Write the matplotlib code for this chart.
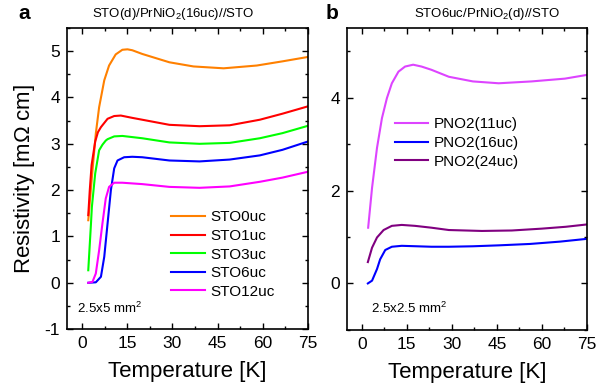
import numpy as np
import matplotlib
matplotlib.use('Agg')
import matplotlib.pyplot as plt
from matplotlib.ticker import MultipleLocator

plt.rcParams['font.family'] = ['Liberation Sans', 'DejaVu Sans']
plt.rcParams['mathtext.fontset'] = 'custom'
plt.rcParams['mathtext.rm'] = 'Liberation Sans'
plt.rcParams['axes.unicode_minus'] = False

# PANEL a: STO(d)/PrNiO2(16uc)//STO
t_sto0 = [2.1, 3.5, 4.6, 5.7, 7.4, 9.0, 11.2, 13.4, 15.1, 16.7, 20, 29, 37, 47, 58, 66.5, 74.5, 75]
r_sto0 = [1.35, 2.43, 3.22, 3.79, 4.37, 4.69, 4.93, 5.03, 5.04, 5.02, 4.94, 4.76, 4.67, 4.63, 4.69, 4.78, 4.87, 4.88]

t_sto1 = [2.1, 2.6, 3.2, 4.4, 5.3, 6.3, 8.5, 10.7, 12.9, 16.7, 20, 29, 39, 49, 59, 66.5, 74.5, 75]
r_sto1 = [1.46, 2.0, 2.54, 3.05, 3.25, 3.36, 3.54, 3.60, 3.61, 3.56, 3.52, 3.41, 3.38, 3.40, 3.52, 3.65, 3.80, 3.81]

t_sto3 = [2.1, 3.0, 3.3, 4.4, 5.7, 6.8, 7.9, 8.5, 10.7, 13.4, 20, 29, 39, 49, 59, 66.5, 74.5, 75]
r_sto3 = [0.27, 1.28, 1.64, 2.36, 2.86, 2.98, 3.07, 3.10, 3.16, 3.17, 3.12, 3.03, 3.00, 3.02, 3.12, 3.23, 3.38, 3.39]

t_sto6 = [2.1, 4.6, 6.3, 7.4, 8.5, 9.6, 10.7, 11.8, 14.0, 16.7, 20, 29, 39, 49, 59, 66.5, 74.5, 75]
r_sto6 = [0.0, 0.01, 0.13, 0.56, 1.28, 2.0, 2.47, 2.64, 2.71, 2.72, 2.71, 2.64, 2.62, 2.66, 2.75, 2.87, 3.04, 3.05]

t_sto12 = [2.1, 3.5, 4.6, 5.7, 6.8, 7.9, 9.0, 10.7, 13.4, 20, 29, 39, 49, 59, 66.5, 74.5, 75]
r_sto12 = [0.0, 0.02, 0.2, 0.70, 1.28, 1.82, 2.07, 2.16, 2.16, 2.13, 2.07, 2.05, 2.08, 2.18, 2.27, 2.39, 2.40]

# PANEL b: STO6uc/PrNiO2(d)//STO
t_pno11 = [2.1, 3.4, 5.05, 6.7, 8.35, 10.0, 12.2, 14.4, 17.1, 19.9, 23.2, 29, 37, 45.6, 56.6, 67.7, 75]
r_pno11 = [1.20, 2.06, 2.92, 3.56, 3.99, 4.31, 4.56, 4.67, 4.71, 4.67, 4.60, 4.45, 4.35, 4.31, 4.35, 4.41, 4.49]

t_pno16 = [2.0, 3.4, 5.05, 6.1, 7.8, 10.0, 13.3, 23.2, 29, 37, 45.6, 56, 66, 75]
r_pno16 = [0.0, 0.06, 0.31, 0.52, 0.72, 0.79, 0.81, 0.79, 0.79, 0.80, 0.82, 0.85, 0.90, 0.96]

t_pno24 = [2.0, 3.4, 5.05, 7.25, 10.0, 13.3, 17.7, 23.2, 29, 40, 50, 60, 68, 75]
r_pno24 = [0.46, 0.77, 0.99, 1.15, 1.24, 1.26, 1.24, 1.20, 1.15, 1.13, 1.14, 1.18, 1.22, 1.27]

series_a = [
    (t_sto0, r_sto0, '#FF8000', 'STO0uc'),
    (t_sto1, r_sto1, '#FF0000', 'STO1uc'),
    (t_sto3, r_sto3, '#00FF00', 'STO3uc'),
    (t_sto6, r_sto6, '#0000FF', 'STO6uc'),
    (t_sto12, r_sto12, '#FF00FF', 'STO12uc'),
]
series_b = [
    (t_pno11, r_pno11, '#DD44FF', 'PNO2(11uc)'),
    (t_pno16, r_pno16, '#0000FF', 'PNO2(16uc)'),
    (t_pno24, r_pno24, '#800080', 'PNO2(24uc)'),
]

fig = plt.figure(figsize=(5.97, 3.89), dpi=100)
ax1 = fig.add_axes([0.112, 0.154, 0.404, 0.774])
ax2 = fig.add_axes([0.581, 0.152, 0.402, 0.776])


def estilo(ax, ymaj, ymin):
    ax.set_xlim(-5, 75)
    ax.set_ylim(-1, 5.5)
    ax.xaxis.set_major_locator(MultipleLocator(15))
    ax.xaxis.set_minor_locator(MultipleLocator(7.5))
    ax.yaxis.set_major_locator(MultipleLocator(ymaj))
    ax.yaxis.set_minor_locator(MultipleLocator(ymin))
    ax.tick_params(which='both', direction='in', top=True, right=True, width=1)
    ax.tick_params(which='major', length=4, labelsize=12.5, pad=5)
    ax.tick_params(which='minor', length=2.5)
    for s in ax.spines.values():
        s.set_linewidth(1.2)
    ax.set_xlabel('Temperature [K]', fontsize=16, labelpad=7)


leg_kw = dict(frameon=False, fontsize=11, handlelength=2.2, handletextpad=0.35,
              labelspacing=0.3, borderaxespad=0.0, borderpad=0.0)

for t, r, c, lab in series_a:
    ax1.plot(t, r, color=c, lw=1.5, label=lab)
estilo(ax1, 1, 0.5)
ax1.set_ylabel(r'Resistivity [m$\Omega$ cm]', fontsize=16, labelpad=5)
ax1.legend(loc='upper left', bbox_to_anchor=(0.432, 0.394), **leg_kw)
ax1.text(0.04, 0.055, r'2.5x5 mm$^2$', transform=ax1.transAxes, fontsize=9.5)

for t, r, c, lab in series_b:
    ax2.plot(t, r, color=c, lw=1.5, label=lab)
estilo(ax2, 2, 1)
ax2.legend(loc='upper left', bbox_to_anchor=(0.2, 0.704), **leg_kw)
ax2.text(0.1, 0.055, r'2.5x2.5 mm$^2$', transform=ax2.transAxes, fontsize=9.5)

fig.text(0.03, 0.965, 'a', fontsize=15, fontweight='bold', va='center')
fig.text(0.29, 0.965, r'STO(d)/PrNiO$_2$(16uc)//STO', fontsize=9.5, ha='center', va='center')
fig.text(0.545, 0.965, 'b', fontsize=15, fontweight='bold', va='center')
fig.text(0.815, 0.965, r'STO6uc/PrNiO$_2$(d)//STO', fontsize=9.5, ha='center', va='center')

fig.savefig('out.png', dpi=100)
